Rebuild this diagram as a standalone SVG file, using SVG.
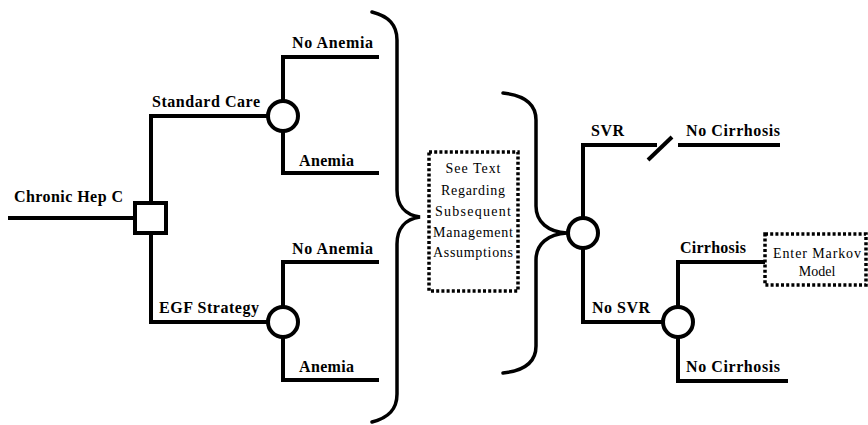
<svg xmlns="http://www.w3.org/2000/svg" width="868" height="425" viewBox="0 0 868 425">
<style>
.ln{fill:none;stroke:#000;stroke-width:4;stroke-linecap:butt;stroke-linejoin:miter}
.br{fill:none;stroke:#000;stroke-width:3.5;stroke-linecap:round}
.nd{fill:#fff;stroke:#000;stroke-width:4}
.dt{fill:none;stroke:#000;stroke-width:3.5;stroke-dasharray:3 2.2}
.lb{font-weight:bold;font-size:16px;fill:#000}
.bx{font-size:14px;fill:#000;text-anchor:middle}
</style>
<rect width="868" height="425" fill="#fff"/>
<g id="connectors">
  <path class="ln" d="M8 218H135"/>
  <path class="ln" d="M151 203V116H268"/>
  <path class="ln" d="M151 233V322H268"/>
  <path class="ln" d="M283 101V57H379"/>
  <path class="ln" d="M283 131V173H379"/>
  <path class="ln" d="M283 307V262H379"/>
  <path class="ln" d="M283 337V380H379"/>
  <path class="ln" d="M583 218V145H657"/>
  <path class="ln" d="M648 160L672 137"/>
  <path class="ln" d="M678 145H780"/>
  <path class="ln" d="M583 248V322H663"/>
  <path class="ln" d="M678 307V262H765"/>
  <path class="ln" d="M678 337V381H788"/>
</g>
<g id="brace1"><path class="br" d="M372 12C388 16 397 24 397 40V190C397 205 405 215 420 217C405 219 397 229 397 244V394C397 410 388 418 372 422"/></g>
<g id="brace2"><path class="br" d="M503 93C522 95 536 102 536 120V206C536 222 548 232 567 233C548 234 536 244 536 260V346C536 364 522 371 503 373"/></g>
<g font-family="Liberation Serif, Times New Roman, serif">
<g id="chronic"><text class="lb" x="14" y="202" textLength="109">Chronic Hep C</text></g>
<g id="decision"><rect class="nd" x="135" y="203" width="31" height="30"/></g>
<g id="standard-care"><text class="lb" x="152" y="107" textLength="108">Standard Care</text><circle class="nd" cx="283" cy="116" r="15"/></g>
<g id="sc-no-anemia"><text class="lb" x="292" y="48" textLength="81">No Anemia</text></g>
<g id="sc-anemia"><text class="lb" x="299" y="166" textLength="55">Anemia</text></g>
<g id="egf-strategy"><text class="lb" x="159" y="313" textLength="100">EGF Strategy</text><circle class="nd" cx="283" cy="322" r="15"/></g>
<g id="egf-no-anemia"><text class="lb" x="292" y="254" textLength="81">No Anemia</text></g>
<g id="egf-anemia"><text class="lb" x="299" y="372" textLength="55">Anemia</text></g>
<g id="see-text">
  <rect class="dt" x="429" y="152" width="89" height="139"/>
  <text class="bx" x="473" y="173" textLength="55">See Text</text>
  <text class="bx" x="473" y="195" textLength="64">Regarding</text>
  <text class="bx" x="473" y="216" textLength="76">Subsequent</text>
  <text class="bx" x="473" y="237" textLength="80">Management</text>
  <text class="bx" x="473" y="257" textLength="80">Assumptions</text>
</g>
<g id="response"><circle class="nd" cx="583" cy="233" r="15"/></g>
<g id="svr"><text class="lb" x="591" y="136" textLength="33">SVR</text></g>
<g id="svr-no-cirrhosis"><text class="lb" x="686" y="136" textLength="94">No Cirrhosis</text></g>
<g id="no-svr"><text class="lb" x="592" y="313" textLength="58">No SVR</text><circle class="nd" cx="678" cy="322" r="15"/></g>
<g id="cirrhosis"><text class="lb" x="680" y="253" textLength="66">Cirrhosis</text></g>
<g id="markov">
  <rect class="dt" x="765" y="234" width="101" height="51"/>
  <text class="bx" x="817" y="258" textLength="88">Enter Markov</text>
  <text class="bx" x="817" y="276">Model</text>
</g>
<g id="nosvr-no-cirrhosis"><text class="lb" x="686" y="372" textLength="94">No Cirrhosis</text></g>
</g>
</svg>
